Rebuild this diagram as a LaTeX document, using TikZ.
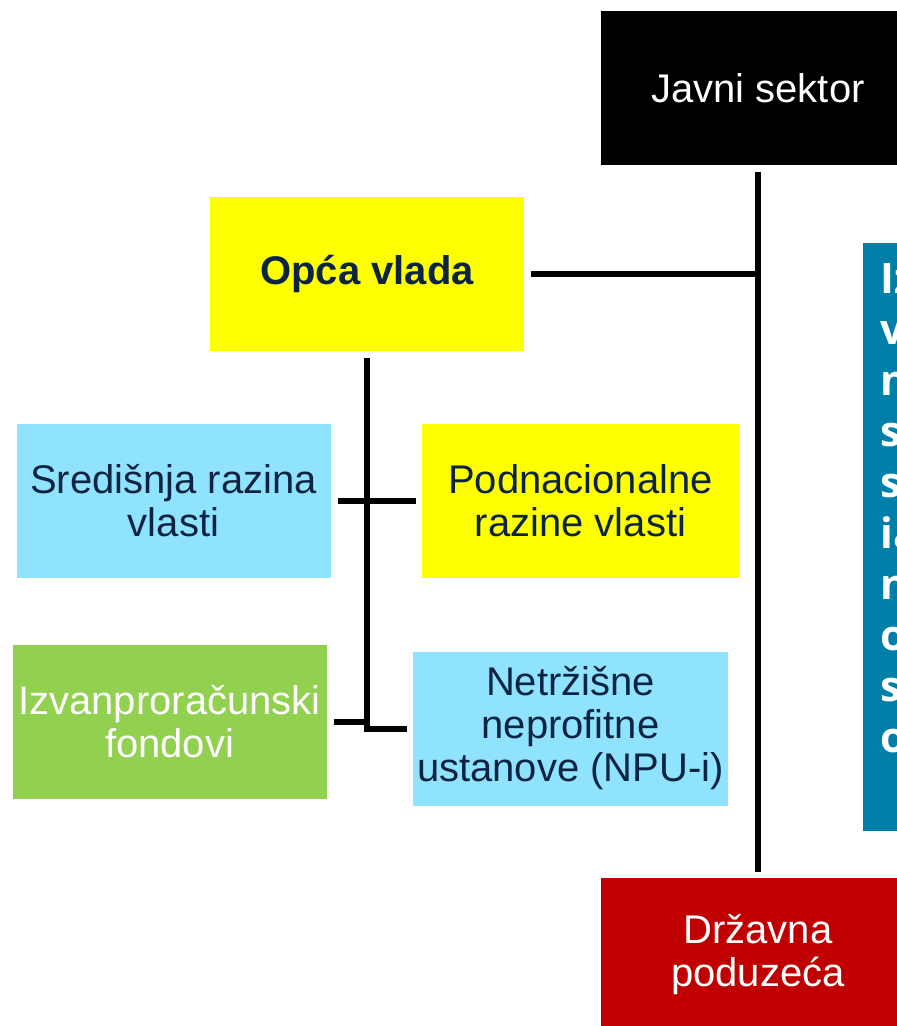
\documentclass[tikz,border=0pt]{standalone}
\usepackage{fontspec}
\setmainfont{Liberation Sans}
\newfontfamily\opisfont{Open Sans}
\usepackage{tikz}
\usetikzlibrary{positioning}
\definecolor{tamnoplava}{RGB}{12,36,66}
\definecolor{zuta}{RGB}{255,255,0}
\definecolor{svijetloplava}{RGB}{143,227,255}
\definecolor{zelena}{RGB}{146,208,80}
\definecolor{crvena}{RGB}{192,0,0}
\definecolor{plava}{RGB}{0,128,168}
\tikzstyle{kutija} = [rectangle, minimum width=157pt, minimum height=77pt, inner sep=2pt, align=center, font=\fontsize{20}{21.5}\selectfont, text=tamnoplava]
\tikzstyle{veza} = [draw, line width=3pt, shorten <=3.5pt]
\tikzstyle{opistekst} = [anchor=base west, inner sep=0pt, text=white, font=\opisfont\bfseries\fontsize{21}{26}\selectfont]

\begin{document}
\begin{tikzpicture}[x=0.5pt, y=-0.5pt]
	\useasboundingbox (0, 0) rectangle (897, 1026);
	\clip (0, 0) rectangle (897, 1026);
	\node [kutija, fill=black, text=white] (javni) at (758, 88) {Javni sektor};
	\node [kutija, fill=zuta, font=\bfseries\fontsize{20}{21.5}\selectfont] (opca) at (367, 274) {Opća vlada};
	\node [kutija, fill=svijetloplava] (sredisnja) at (173.5, 500.5) {Središnja razina\\vlasti};
	\node [kutija, fill=zuta, minimum width=158.5pt] (podnac) at (580.5, 500.5) {Podnacionalne\\razine vlasti};
	\node [kutija, fill=zelena, text=white] (izvan) at (169.5, 721.5) {Izvanproračunski\\fondovi};
	\node [kutija, fill=svijetloplava] (npu) at (570.5, 728.5) {Netržišne\\neprofitne\\ustanove (NPU-i)};
	\node [kutija, fill=crvena, text=white] (drzavna) at (758, 955) {Državna\\poduzeća};
	\node [fill=plava, anchor=north west, inner sep=0pt, minimum width=100pt, minimum height=294pt] (opis) at (863, 243) {};
	\foreach \t [count=\i] in {Iz, v, n, s, s, ia, n, o, s, o}
		\node [opistekst] (opis\i) at (880, 293 + 51.1*\i - 51.1) {\t};

	\path [veza, shorten >=3pt] (javni) -- (drzavna);
	\path [veza] (opca.east) -- (opca.east -| javni.south);
	\path [veza] (opca.south) -- (opca.south |- npu.west) -- ([xshift=-3pt]npu.west);
	\path [veza, shorten >=3pt] (sredisnja.east) -- (podnac.west);
	\path [veza] (izvan.east) -- (izvan.east -| opca.south);
\end{tikzpicture}
\end{document}
